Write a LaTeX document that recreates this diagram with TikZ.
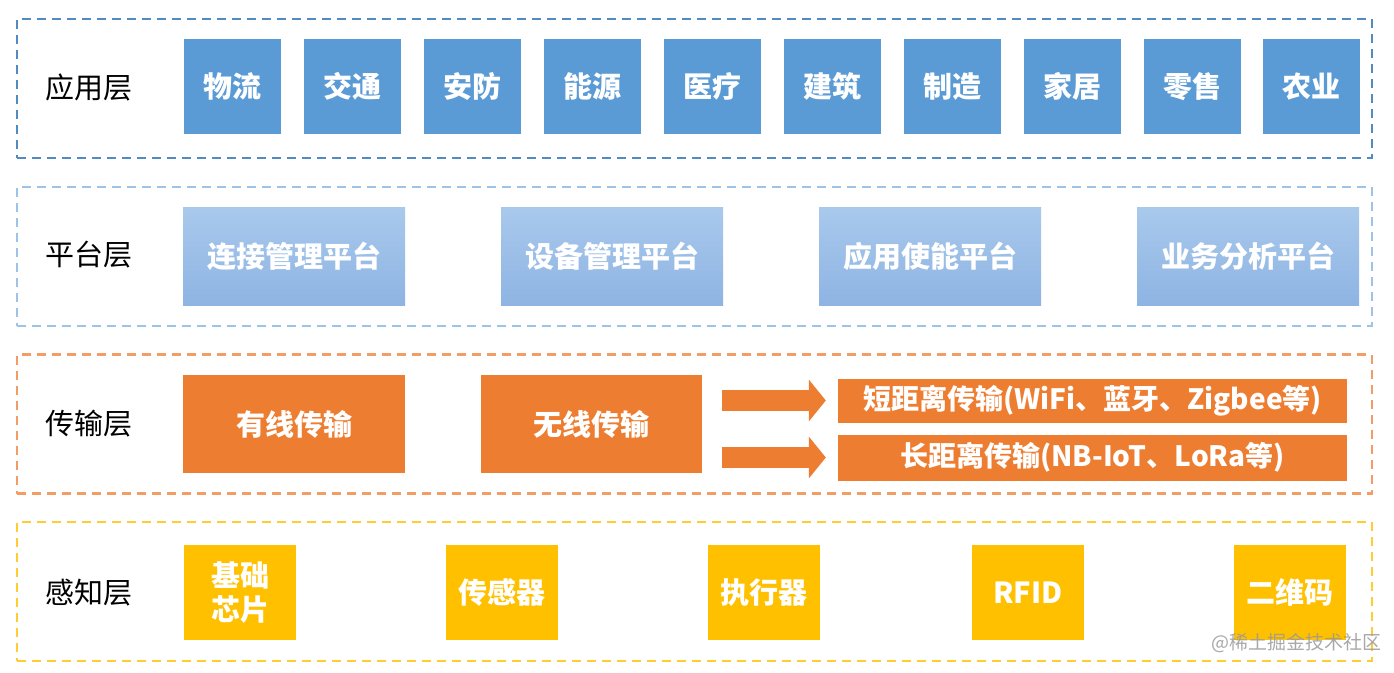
\documentclass[tikz,border=0pt]{standalone}
\usepackage{fontspec}
\setmainfont{Noto Sans CJK SC}
\usetikzlibrary{arrows.meta}
\definecolor{appblue}{HTML}{5B9BD5}
\definecolor{apptop}{HTML}{A9C9EC}
\definecolor{appbot}{HTML}{8EB4E3}
\definecolor{netorange}{HTML}{ED7D31}
\definecolor{senseyellow}{HTML}{FFC000}
\begin{document}
\begin{tikzpicture}[x=1pt, y=-1pt,
  every node/.style={inner sep=0pt, font=\fontsize{29}{33}\selectfont},
  layer/.style={draw, line width=2.2pt, dash pattern=on 9pt off 6pt, minimum width=1355pt, minimum height=139pt},
  layername/.style={text=black},
  box/.style={text=white, font=\fontsize{29}{34}\selectfont\bfseries, align=center},
  bigarrow/.style={netorange, line width=21pt, -{Triangle[length=17pt, width=41pt]}, shorten <=20pt, shorten >=12pt}]

  \useasboundingbox[fill=white] (0,0) rectangle (1394,672);

  % application layer
  \node (applayer) at (694.5, 88.5) [layer, draw=appblue!90!black] {};
  \node (appname) at (89, 87) [layername] {应用层};
  \node (a1) at (232, 86.5) [box, fill=appblue, minimum width=97pt, minimum height=95pt] {物流};
  \node (a2) at (352, 86.5) [box, fill=appblue, minimum width=97pt, minimum height=95pt] {交通};
  \node (a3) at (472, 86.5) [box, fill=appblue, minimum width=97pt, minimum height=95pt] {安防};
  \node (a4) at (592, 86.5) [box, fill=appblue, minimum width=97pt, minimum height=95pt] {能源};
  \node (a5) at (712, 86.5) [box, fill=appblue, minimum width=97pt, minimum height=95pt] {医疗};
  \node (a6) at (832, 86.5) [box, fill=appblue, minimum width=97pt, minimum height=95pt] {建筑};
  \node (a7) at (952, 86.5) [box, fill=appblue, minimum width=97pt, minimum height=95pt] {制造};
  \node (a8) at (1072, 86.5) [box, fill=appblue, minimum width=97pt, minimum height=95pt] {家居};
  \node (a9) at (1192, 86.5) [box, fill=appblue, minimum width=97pt, minimum height=95pt] {零售};
  \node (a10) at (1311, 86.5) [box, fill=appblue, minimum width=97pt, minimum height=95pt] {农业};

  % platform layer
  \node (platlayer) at (694.5, 256.5) [layer, draw=appblue!60] {};
  \node (platname) at (89, 255) [layername] {平台层};
  \node (p1) at (294, 256) [box, top color=apptop, bottom color=appbot, minimum width=222pt, minimum height=98pt] {连接管理平台};
  \node (p2) at (612, 256) [box, top color=apptop, bottom color=appbot, minimum width=222pt, minimum height=98pt] {设备管理平台};
  \node (p3) at (930, 256) [box, top color=apptop, bottom color=appbot, minimum width=222pt, minimum height=98pt] {应用使能平台};
  \node (p4) at (1248, 256) [box, top color=apptop, bottom color=appbot, minimum width=222pt, minimum height=98pt] {业务分析平台};

  % transmission layer
  \node (netlayer) at (694.5, 424) [layer, draw=netorange!75] {};
  \node (netname) at (89, 424) [layername] {传输层};
  \node (wired) at (294, 424) [box, fill=netorange, minimum width=222pt, minimum height=98pt] {有线传输};
  \node (wireless) at (591.5, 424) [box, fill=netorange, minimum width=221pt, minimum height=98pt] {无线传输};
  \node (short) at (1092.5, 400.5) [box, fill=netorange, minimum width=509pt, minimum height=44pt, font=\fontsize{28}{32}\selectfont\bfseries] {短距离传输(WiFi、蓝牙、Zigbee等)};
  \node (long) at (1092.5, 457.5) [box, fill=netorange, minimum width=509pt, minimum height=46pt, font=\fontsize{28}{32}\selectfont\bfseries] {长距离传输(NB-IoT、LoRa等)};
  \draw[bigarrow] (wireless.east |- short.west) -- (short.west);
  \draw[bigarrow] (wireless.east |- long.west) -- (long.west);

  % perception layer
  \node (senselayer) at (694.5, 591.5) [layer, draw=senseyellow!80] {};
  \node (sensename) at (89, 593) [layername] {感知层};
  \node (s1) at (240, 592.5) [box, fill=senseyellow, minimum width=112pt, minimum height=95pt] {基础\\芯片};
  \node (s2) at (502, 592.5) [box, fill=senseyellow, minimum width=112pt, minimum height=95pt] {传感器};
  \node (s3) at (764, 592.5) [box, fill=senseyellow, minimum width=112pt, minimum height=95pt] {执行器};
  \node (s4) at (1028, 592.5) [box, fill=senseyellow, minimum width=112pt, minimum height=95pt] {RFID};
  \node (s5) at (1290, 592.5) [box, fill=senseyellow, minimum width=112pt, minimum height=95pt] {二维码};

  \node (mark) at (1296, 643) [text=gray!80, opacity=0.85, font=\fontsize{19}{22}\selectfont] {@稀土掘金技术社区};

\end{tikzpicture}
\end{document}
